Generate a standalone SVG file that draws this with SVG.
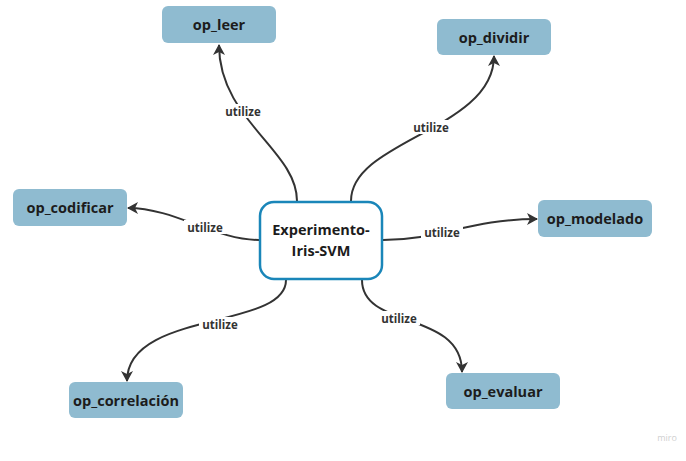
<svg xmlns="http://www.w3.org/2000/svg" width="686" height="461" viewBox="0 0 686 461">
<defs>
<style>
.node rect{fill:#8fbbd0;}
.node text{font-family:"Open Sans","Noto Sans",sans-serif;font-weight:700;font-size:14.5px;fill:#1c1c1c;text-anchor:middle;dominant-baseline:central;}
.center rect{fill:#ffffff;stroke:#1a86b9;stroke-width:2.5;}
.center text{font-family:"Open Sans","Noto Sans",sans-serif;font-weight:700;font-size:14.5px;fill:#1c1c1c;text-anchor:middle;dominant-baseline:central;}
.edge{fill:none;stroke:#333333;stroke-width:2;marker-end:url(#arr);}
.lbl{font-family:"Open Sans","Noto Sans",sans-serif;font-weight:700;font-size:11.5px;fill:#333333;text-anchor:middle;dominant-baseline:central;}
.lblbg{fill:#ffffff;}
</style>
<marker id="arr" viewBox="0 0 12 12" refX="10" refY="6" markerWidth="12" markerHeight="12" markerUnits="userSpaceOnUse" orient="auto">
<path d="M0,0 L11,6 L0,12 L3,6 Z" fill="#333333"/>
</marker>
</defs>
<rect width="686" height="461" fill="#ffffff"/>
<g id="connectors">
<path class="edge" d="M297,201 C297,150 219,120 219,45"/>
<path class="edge" d="M351,201 C351,140 494,130 494,56"/>
<path class="edge" d="M259,240 C215,240 175,208 128,208"/>
<path class="edge" d="M383,240 C440,240 470,219 537,219"/>
<path class="edge" d="M286,280 C286,330 127,310 127,381"/>
<path class="edge" d="M362,280 C362,330 462,310 462,372"/>
<rect class="lblbg" x="222" y="104" width="42" height="14"/>
<text class="lbl" x="243" y="111">utilize</text>
<rect class="lblbg" x="410" y="120" width="42" height="14"/>
<text class="lbl" x="431" y="127">utilize</text>
<rect class="lblbg" x="184" y="220" width="42" height="14"/>
<text class="lbl" x="205" y="227">utilize</text>
<rect class="lblbg" x="421" y="225" width="42" height="14"/>
<text class="lbl" x="442" y="232">utilize</text>
<rect class="lblbg" x="199" y="317" width="42" height="14"/>
<text class="lbl" x="220" y="324">utilize</text>
<rect class="lblbg" x="378" y="311" width="42" height="14"/>
<text class="lbl" x="399" y="318">utilize</text>
</g>
<g id="center" class="center">
<rect x="260" y="202" width="122" height="77" rx="14"/>
<text x="321" y="229">Experimento-</text>
<text x="321" y="250">Iris-SVM</text>
</g>
<g id="op_leer" class="node"><rect x="162" y="6" width="114" height="37" rx="6"/><text x="219" y="24.5">op_leer</text></g>
<g id="op_dividir" class="node"><rect x="437" y="19" width="114" height="36" rx="6"/><text x="494" y="37">op_dividir</text></g>
<g id="op_codificar" class="node"><rect x="13" y="189" width="114" height="37" rx="6"/><text x="70" y="207.5">op_codificar</text></g>
<g id="op_modelado" class="node"><rect x="538" y="200" width="114" height="37" rx="6"/><text x="595" y="218.5">op_modelado</text></g>
<g id="op_correlacion" class="node"><rect x="69" y="382" width="114" height="36" rx="6"/><text x="126" y="400">op_correlación</text></g>
<g id="op_evaluar" class="node"><rect x="446" y="373" width="114" height="36" rx="6"/><text x="503" y="391">op_evaluar</text></g>
<text x="667" y="441" font-family="Open Sans, sans-serif" font-size="9" fill="#d0d0d0" text-anchor="middle">miro</text>
</svg>
